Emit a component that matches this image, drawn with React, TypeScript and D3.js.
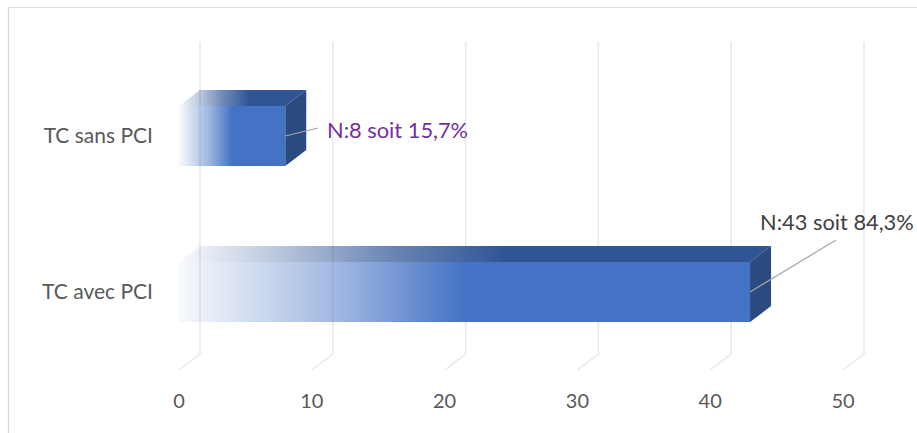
import React from "react";
import * as d3 from "d3";

const categories = ["TC sans PCI", "TC avec PCI"];
const values = [8, 43];
const labels = ["N:8 soit 15,7%", "N:43 soit 84,3%"];
const labelColors = ["#7030A0", "#404040"];
const ticks = [0, 10, 20, 30, 40, 50];

const W = 917;
const H = 433;
const DX = 21;
const DY = -16;
const FONT = "Lato, 'Open Sans', sans-serif";

export default function App() {
  const x = d3.scaleLinear().domain([0, 50]).range([179, 843]);
  const y = d3.scaleBand().domain(categories).range([58, 370]).paddingInner(0.615).paddingOuter(0.3075);
  const bh = y.bandwidth();
  const baseY = 370;
  const topY = 42;

  const labelPos = [
    { tx: 327, ty: 130, lx2: 318, ly2: 128 },
    { tx: 760, ty: 222, lx2: 836, ly2: 240 },
  ];

  return (
    <svg
      width={W}
      height={H}
      style={{ position: "fixed", left: 0, top: 0, background: "#fff" }}
      fontFamily={FONT}
    >
      <defs>
        <linearGradient id="gFront" x1="0" x2="1" y1="0" y2="0">
          <stop offset="0" stopColor="#4472C4" stopOpacity="0.04" />
          <stop offset="0.1" stopColor="#4472C4" stopOpacity="0.2" />
          <stop offset="0.3" stopColor="#4472C4" stopOpacity="0.55" />
          <stop offset="0.5" stopColor="#4472C4" stopOpacity="1" />
          <stop offset="1" stopColor="#4472C4" stopOpacity="1" />
        </linearGradient>
        <linearGradient id="gTop" x1="0" x2="1" y1="0" y2="0">
          <stop offset="0" stopColor="#2F5597" stopOpacity="0.03" />
          <stop offset="0.15" stopColor="#2F5597" stopOpacity="0.3" />
          <stop offset="0.35" stopColor="#2F5597" stopOpacity="0.7" />
          <stop offset="0.55" stopColor="#2F5597" stopOpacity="1" />
          <stop offset="1" stopColor="#2F5597" stopOpacity="1" />
        </linearGradient>
      </defs>
      <rect x={0} y={0} width={W} height={H} fill="#fff" />
      <path d={`M8.5,${H} L8.5,7.5 L${W},7.5`} fill="none" stroke="#d9d9d9" strokeWidth={1.2} />

      {ticks.map((t) => (
        <path
          key={t}
          d={`M${x(t) + DX},${topY} L${x(t) + DX},${baseY + DY} L${x(t)},${baseY}`}
          fill="none"
          stroke="#e8e8e8"
          strokeWidth={1.5}
        />
      ))}

      {ticks.map((t) => (
        <text key={t} x={x(t)} y={408} textAnchor="middle" fontSize={20} fill="#595959">
          {t}
        </text>
      ))}

      {categories.map((c, i) => {
        const y0 = y(c)!;
        const x0 = x(0);
        const x1 = x(values[i]);
        return (
          <g key={c}>
            <path
              d={`M${x0},${y0} L${x0 + DX},${y0 + DY} L${x1 + DX},${y0 + DY} L${x1},${y0} Z`}
              fill="url(#gTop)"
            />
            <path
              d={`M${x1},${y0} L${x1 + DX},${y0 + DY} L${x1 + DX},${y0 + bh + DY} L${x1},${y0 + bh} Z`}
              fill="#2A4A80"
            />
            <rect x={x0} y={y0} width={x1 - x0} height={bh} fill="url(#gFront)" />
            <line
              x1={x1}
              y1={y0 + bh / 2}
              x2={labelPos[i].lx2}
              y2={labelPos[i].ly2}
              stroke="#a6a6a6"
              strokeWidth={1.2}
            />
            <text
              x={labelPos[i].tx}
              y={labelPos[i].ty}
              dy="0.35em"
              fontSize={21.8}
              fill={labelColors[i]}
            >
              {labels[i]}
            </text>
            <text
              x={153}
              y={y0 + bh / 2}
              dy="0.35em"
              textAnchor="end"
              fontSize={21}
              fill="#595959"
            >
              {c}
            </text>
          </g>
        );
      })}
    </svg>
  );
}
